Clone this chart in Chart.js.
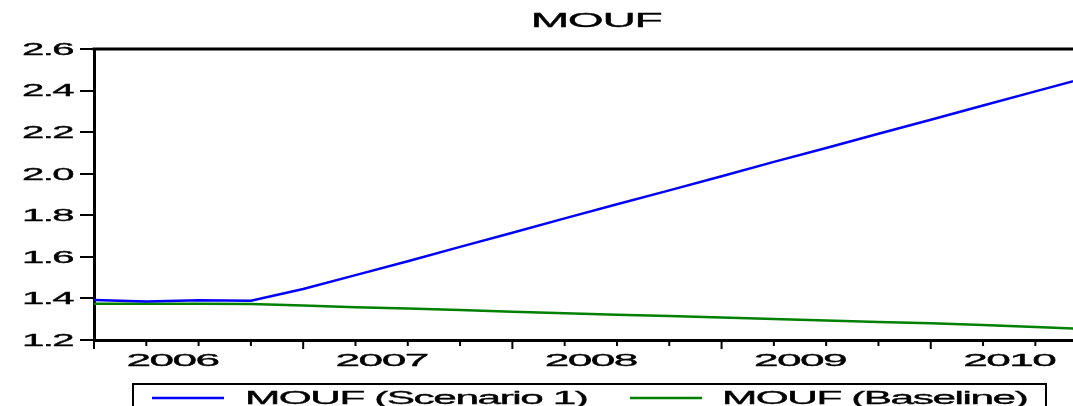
<!DOCTYPE html>
<html>
<head>
<meta charset="utf-8">
<script src="https://cdn.jsdelivr.net/npm/chart.js@4/dist/chart.umd.min.js"></script>
<style>
  html, body { margin: 0; padding: 0; background: #fff; }
  #wrap { position: relative; width: 1073px; height: 406px; }
</style>
</head>
<body>
<div id="wrap"><canvas id="moufChart"></canvas></div>
<script>
// quarterly data, 2006Q1 .. 2010Q4
const quarters = ['2006Q1','2006Q2','2006Q3','2006Q4','2007Q1','2007Q2','2007Q3','2007Q4',
  '2008Q1','2008Q2','2008Q3','2008Q4','2009Q1','2009Q2','2009Q3','2009Q4',
  '2010Q1','2010Q2','2010Q3','2010Q4'];
const scenario1 = [1.393, 1.385, 1.391, 1.389, 1.445, 1.512, 1.579, 1.648, 1.716, 1.785,
  1.853, 1.920, 1.988, 2.057, 2.124, 2.192, 2.260, 2.328, 2.396, 2.464];
const baseline = [1.375, 1.374, 1.374, 1.373, 1.366, 1.358, 1.351, 1.344, 1.336, 1.329,
  1.322, 1.315, 1.308, 1.301, 1.294, 1.287, 1.280, 1.272, 1.262, 1.252];
const yearLabels = ['2006', '2007', '2008', '2009', '2010'];
const titleText = 'MOUF';
const seriesNames = ['MOUF (Scenario 1)', 'MOUF (Baseline)'];

const FONT = '"Liberation Sans", Arial, sans-serif';

// EViews-like wide text
function wideText(ctx, text, x, y, size, sx, align) {
  ctx.save();
  ctx.font = size + 'px ' + FONT;
  if ('letterSpacing' in ctx) ctx.letterSpacing = '-0.6px';
  ctx.fillStyle = '#000';
  ctx.strokeStyle = '#000';
  ctx.lineWidth = 0.35;
  ctx.textBaseline = 'alphabetic';
  const w = ctx.measureText(text).width * sx;
  let x0 = x;
  if (align === 'center') x0 = x - w / 2;
  if (align === 'right') x0 = x - w;
  ctx.translate(x0, y);
  ctx.scale(sx, 1);
  ctx.textAlign = 'left';
  ctx.fillText(text, 0, 0);
  ctx.strokeText(text, 0, 0);
  ctx.restore();
}

const evPlugin = {
  id: 'evDecor',
  afterDraw(chart) {
    const ctx = chart.ctx;
    const area = chart.chartArea;
    const xs = chart.scales.x;
    const ys = chart.scales.y;

    // top frame line
    ctx.save();
    ctx.strokeStyle = '#000';
    ctx.lineWidth = 3;
    ctx.beginPath();
    ctx.moveTo(area.left - 1.5, area.top);
    ctx.lineTo(area.right, area.top);
    ctx.stroke();

    // quarter ticks, longer at year start
    ctx.lineWidth = 2;
    for (let i = 0; i < quarters.length; i++) {
      const px = xs.getPixelForValue(i);
      if (px > area.right) break;
      const len = i % 4 === 0 ? 9 : 6;
      ctx.beginPath();
      ctx.moveTo(px, area.bottom);
      ctx.lineTo(px, area.bottom + len);
      ctx.stroke();
    }
    ctx.restore();

    // y tick labels
    ys.ticks.forEach(t => {
      const py = ys.getPixelForValue(t.value);
      wideText(ctx, t.value.toFixed(1), 73, py + 5.8, 16, 2.5, 'right');
    });

    // year labels centred on their quarters
    yearLabels.forEach((yr, k) => {
      const px = xs.getPixelForValue(k * 4 + 1.5);
      wideText(ctx, yr, px, 366, 17, 2.6, 'center');
    });

    // title
    wideText(ctx, titleText, 596, 27, 21, 2.2, 'center');

    // legend
    ctx.save();
    ctx.strokeStyle = '#000';
    ctx.lineWidth = 2;
    ctx.strokeRect(133, 384, 913, 60);
    const colors = chart.data.datasets.map(d => d.borderColor);
    const items = [{ x: 152, tx: 245 }, { x: 630, tx: 722 }];
    items.forEach((it, k) => {
      ctx.strokeStyle = colors[k];
      ctx.lineWidth = 2.5;
      ctx.beginPath();
      ctx.moveTo(it.x, 398);
      ctx.lineTo(it.x + 72, 398);
      ctx.stroke();
      wideText(ctx, chart.data.datasets[k].label, it.tx, 403.5, 17.5, 2.42, 'left');
    });
    ctx.restore();
  }
};

const toPoints = arr => arr.map((v, i) => ({ x: i, y: v }));

new Chart(document.getElementById('moufChart'), {
  type: 'line',
  data: {
    labels: quarters,
    datasets: [
      {
        label: seriesNames[0],
        data: toPoints(scenario1),
        borderColor: '#0000FF',
        borderWidth: 2.5,
        pointRadius: 0,
        tension: 0
      },
      {
        label: seriesNames[1],
        data: toPoints(baseline),
        borderColor: '#008000',
        borderWidth: 2.5,
        pointRadius: 0,
        tension: 0
      }
    ]
  },
  options: {
    responsive: true,
    maintainAspectRatio: false,
    animation: false,
    layout: { padding: { top: 49, bottom: 66, left: 0, right: 0 } },
    plugins: {
      legend: { display: false },
      title: { display: false },
      tooltip: { enabled: false }
    },
    scales: {
      x: {
        type: 'linear',
        min: 0,
        max: 18.72,
        ticks: { display: false },
        grid: { display: false },
        border: { display: true, color: '#000', width: 3 },
        afterFit(scale) { scale.height = 0; }
      },
      y: {
        min: 1.2,
        max: 2.6,
        ticks: { display: false, stepSize: 0.2 },
        grid: {
          drawOnChartArea: false,
          drawTicks: true,
          tickLength: 14,
          color: '#000',
          lineWidth: 2
        },
        border: { display: true, color: '#000', width: 3 },
        afterFit(scale) { scale.width = 94; }
      }
    }
  },
  plugins: [evPlugin]
});
</script>
</body>
</html>
